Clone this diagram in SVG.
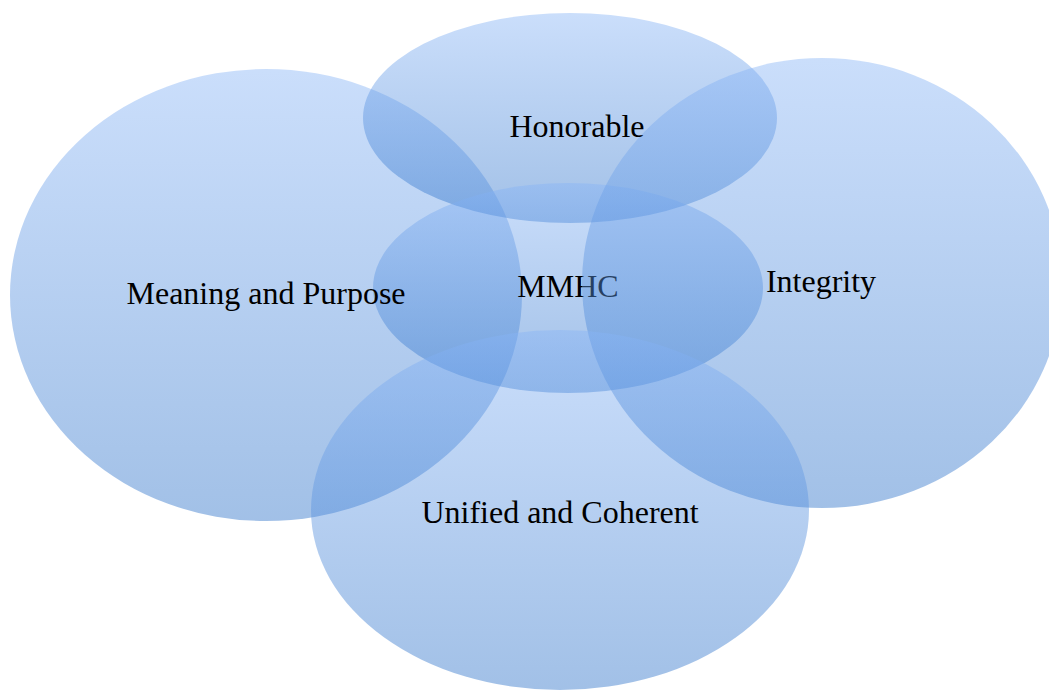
<svg xmlns="http://www.w3.org/2000/svg" width="1049" height="690" viewBox="0 0 1049 690">
  <defs>
    <!-- shared translucent blue fill, running top to bottom of each ellipse -->
    <linearGradient id="blueFill" x1="0" y1="0" x2="0" y2="1">
      <stop offset="0" stop-color="rgb(135,180,246)"/>
      <stop offset="1" stop-color="rgb(42,112,200)"/>
    </linearGradient>
  </defs>
  <style>
    .circle { fill: url(#blueFill); fill-opacity: 0.44; }
    .label { font-family: "Liberation Serif", "Times New Roman", serif; font-size: 32px; fill: #000; text-anchor: middle; }
  </style>
  <rect width="1049" height="690" fill="#ffffff"/>

  <g id="node-meaning">
    <ellipse class="circle" cx="266" cy="295" rx="256" ry="226"/>
  </g>
  <g id="node-honorable">
    <ellipse class="circle" cx="570" cy="118" rx="207" ry="105"/>
  </g>
  <g id="node-mmhc">
    <ellipse class="circle" cx="568" cy="288" rx="195" ry="105"/>
    <text class="label" x="568" y="297">MMHC</text>
  </g>
  <g id="node-integrity">
    <ellipse class="circle" cx="822" cy="283" rx="240" ry="225"/>
  </g>
  <g id="node-unified">
    <ellipse class="circle" cx="560" cy="510" rx="249" ry="180"/>
  </g>

  <g id="labels">
    <text class="label" x="266" y="304">Meaning and Purpose</text>
    <text class="label" x="577" y="137">Honorable</text>
    <text class="label" x="821" y="292">Integrity</text>
    <text class="label" x="560" y="523">Unified and Coherent</text>
  </g>
</svg>
